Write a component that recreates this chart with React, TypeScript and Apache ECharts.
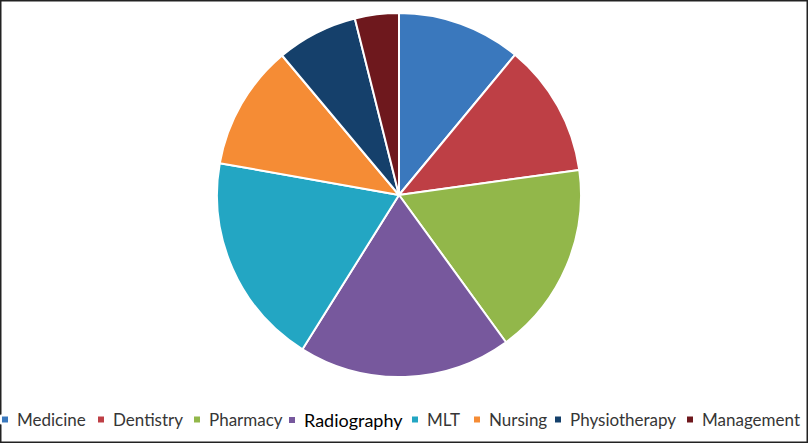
import React, { useEffect, useRef } from "react";
import * as echarts from "echarts";

const categories = ["Medicine", "Dentistry", "Pharmacy", "Radiography", "MLT", "Nursing", "Physiotherapy", "Management"];
const values = [11.0, 11.8, 17.2, 18.9, 18.9, 11.1, 7.2, 3.9];
const colors = ["#3A78BD", "#BE3F45", "#92B74A", "#77589D", "#23A6C3", "#F58C35", "#15406B", "#6E181D"];
const legendLefts = [0, 96, 192, 287, 410, 472, 553, 685];

export default function App() {
  const ref = useRef<HTMLDivElement>(null);
  useEffect(() => {
    const chart = echarts.init(ref.current!, undefined, { renderer: "svg" });
    const legends = categories.map((name, i) => ({
      data: [
        name === "Radiography"
          ? { name, textStyle: { color: "#000", fontSize: 18 } }
          : { name },
      ],
      left: legendLefts[i],
      top: 411,
      orient: "horizontal",
      icon: "rect",
      itemWidth: 8,
      itemHeight: 8,
      padding: 0,
      selectedMode: false,
      textStyle: {
        fontFamily: "Lato",
        fontSize: 17,
        color: "#363636",
        padding: [0, 0, 0, 3],
      },
    }));
    chart.setOption({
      animation: false,
      color: colors,
      legend: legends,
      graphic: [
        {
          type: "rect",
          shape: { x: 0.75, y: 0.75, width: 806.5, height: 441.5 },
          style: { fill: "none", stroke: "#222", lineWidth: 1.5 },
          silent: true,
        },
      ],
      series: [
        {
          type: "pie",
          center: [399, 195],
          radius: 182,
          startAngle: 90,
          clockwise: true,
          label: { show: false },
          labelLine: { show: false },
          emphasis: { disabled: true },
          itemStyle: { borderColor: "#fff", borderWidth: 2 },
          data: categories.map((name, i) => ({ name, value: values[i] })),
        },
      ],
    });
    return () => chart.dispose();
  }, []);
  return (
    <div
      ref={ref}
      style={{ position: "fixed", left: 0, top: 0, width: 808, height: 443, background: "#fff" }}
    />
  );
}
